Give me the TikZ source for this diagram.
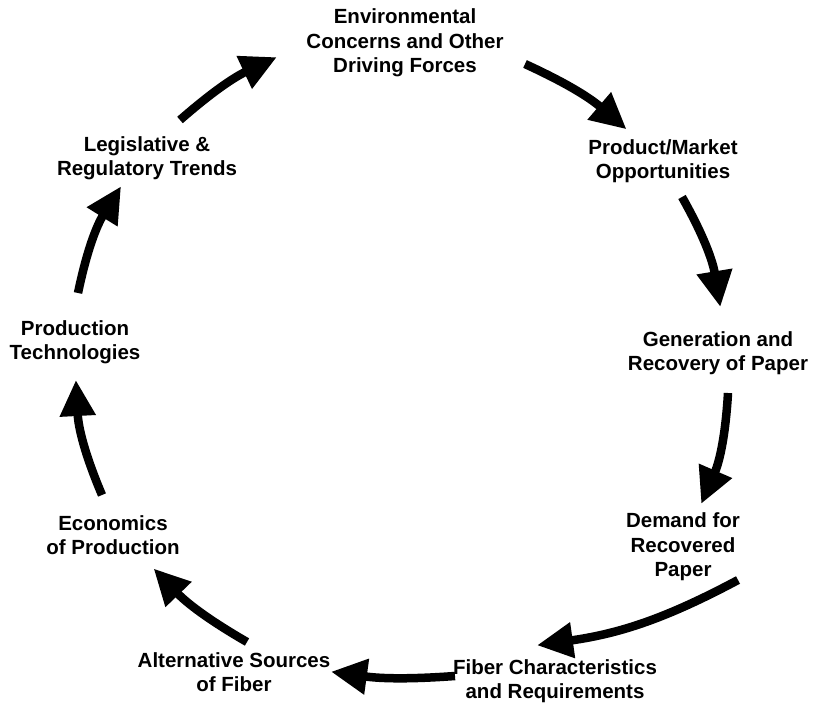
\documentclass[tikz,border=0pt]{standalone}
\usepackage{fontspec}
\setmainfont{Liberation Sans}
\usetikzlibrary{arrows.meta}
\begin{document}
\begin{tikzpicture}[x=1pt,y=-1pt,
  label/.style={align=center,font=\fontsize{20.5}{24.5}\selectfont\bfseries,inner sep=0pt},
  flow/.style={line width=8.5pt,-{Triangle[length=36pt,width=34pt]},shorten >=-2pt}]
\useasboundingbox (0,0) rectangle (816,706);

% stages of the cycle
\node[label] (env)  at (405,43)  {Environmental\\Concerns and Other\\Driving Forces};
\node[label] (prod) at (663,161) {Product/Market\\Opportunities};
\node[label] (gen)  at (718,353) {Generation and\\Recovery of Paper};
\node[label] (dem)  at (683,547) {Demand for\\Recovered\\Paper};
\node[label] (fib)  at (555,681) {Fiber Characteristics\\and Requirements};
\node[label] (alt)  at (234,672) {Alternative Sources\\of Fiber};
\node[label] (eco)  at (113,535) {Economics\\of Production};
\node[label] (tech) at (75,342)  {Production\\Technologies};
\node[label] (leg)  at (147,158) {Legislative \&\\Regulatory Trends};

% arrow ends
\coordinate (a1s) at (525,64);  \coordinate (a1e) at (625,128);
\coordinate (a2s) at (682,197); \coordinate (a2e) at (720,305);
\coordinate (a3s) at (728,393); \coordinate (a3e) at (702,502);
\coordinate (a4s) at (738,580); \coordinate (a4e) at (539,645);
\coordinate (a5s) at (455,676); \coordinate (a5e) at (333,672);
\coordinate (a6s) at (247,642); \coordinate (a6e) at (155,570);
\coordinate (a7s) at (102,495); \coordinate (a7e) at (76,382);
\coordinate (a8s) at (78,293);  \coordinate (a8e) at (120,188);
\coordinate (a9s) at (180,120); \coordinate (a9e) at (275,58);

\draw[flow] (a1s) to[bend left=8]  (a1e);
\draw[flow] (a2s) to[bend left=10] (a2e);
\draw[flow] (a3s) to[bend left=10] (a3e);
\draw[flow] (a4s) to[bend left=10] (a4e);
\draw[flow] (a5s) to[bend left=6]  (a5e);
\draw[flow] (a6s) to[bend left=8]  (a6e);
\draw[flow] (a7s) to[bend left=10] (a7e);
\draw[flow] (a8s) to[bend left=10] (a8e);
\draw[flow] (a9s) to[bend left=8]  (a9e);
\end{tikzpicture}
\end{document}
